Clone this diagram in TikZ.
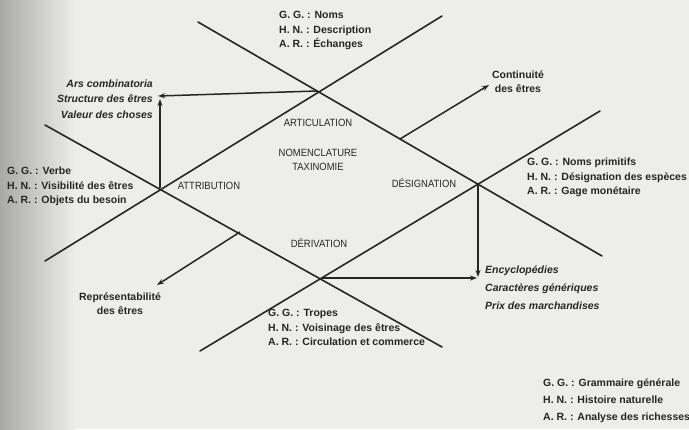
\documentclass[tikz,border=0pt]{standalone}
\usepackage{fontspec}
\setmainfont{Liberation Sans}
\newfontfamily\capsfont{Liberation Sans}[FakeStretch=0.9]
\usetikzlibrary{arrows.meta}
\definecolor{bgpaper}{HTML}{EDEDE9}
\definecolor{bgedge}{HTML}{A9A9A6}
\definecolor{ink}{HTML}{262626}
\tikzset{
  axis/.style={draw=ink, line width=1.6pt, line cap=round},
  arr/.style={draw=ink, line width=1.5pt, -{Stealth[length=7pt,width=5pt]}},
  lab/.style={font=\capsfont\fontsize{10.5}{12}\selectfont, text=ink, inner sep=0pt},
  blk/.style={text=ink, inner sep=0pt, align=left, anchor=north west, font=\bfseries\fontsize{10.5}{14.5}\selectfont},
}
\begin{document}
\begin{tikzpicture}[x=1pt,y=-1pt]
\useasboundingbox (0,0) rectangle (689,429);
\fill[bgpaper] (0,0) rectangle (689,429);
\shade[left color=bgedge, right color=bgpaper] (0,0) rectangle (75,429);
% crossing points
\coordinate (A) at (317,91);
\coordinate (T) at (160,188);
\coordinate (D) at (322,278);
\coordinate (S) at (478,184);
% line ends
\coordinate (L1s) at (198,22);
\coordinate (L1e) at (602,256);
\coordinate (L2s) at (45,261);
\coordinate (L2e) at (442,16);
\coordinate (L3s) at (45,125);
\coordinate (L3e) at (442,347);
\coordinate (L4s) at (200,351);
\coordinate (L4e) at (600,111);
\draw[axis] (L1s) -- (L1e);
\draw[axis] (L2s) -- (L2e);
\draw[axis] (L3s) -- (L3e);
\draw[axis] (L4s) -- (L4e);
% arrow anchors
\coordinate (structtip) at (158,96);
\coordinate (uptip) at (160,99);
\coordinate (contfrom) at (400,139);
\coordinate (conttip) at (489,85);
\coordinate (repfrom) at (240,232);
\coordinate (reptip) at (157,285);
\coordinate (downtip) at (478,277);
\coordinate (righttip) at (477,278);
\draw[arr] (A) -- (structtip);
\draw[arr] (T) -- (uptip);
\draw[arr] (contfrom) -- (conttip);
\draw[arr] (repfrom) -- (reptip);
\draw[arr] (S) -- (downtip);
\draw[arr] (D) -- (righttip);
% central labels
\node[lab] (art) at (318,123) {ARTICULATION};
\node[lab] (nom) at (318,153) {NOMENCLATURE};
\node[lab] (tax) at (318,167) {TAXINOMIE};
\node[lab] (att) at (209,186) {ATTRIBUTION};
\node[lab] (des) at (424,183) {DÉSIGNATION};
\node[lab] (der) at (319,243) {DÉRIVATION};
% blocks
\node[blk] (top) at (279,11) {G. G. : Noms\\H. N. : Description\\A. R. : Échanges};
\node[blk] (left) at (7,167) {G. G. : Verbe\\H. N. : Visibilité des êtres\\A. R. : Objets du besoin};
\node[blk] (right) at (527,158) {G. G. : Noms primitifs\\H. N. : Désignation des espèces\\A. R. : Gage monétaire};
\node[blk] (bottom) at (268,309) {G. G. : Tropes\\H. N. : Voisinage des êtres\\A. R. : Circulation et commerce};
\node[blk, font=\bfseries\fontsize{10.5}{17}\selectfont] (legend) at (543,379) {G. G. : Grammaire générale\\H. N. : Histoire naturelle\\A. R. : Analyse des richesses};
\node[text=ink, inner sep=0pt, align=right, anchor=east, font=\bfseries\itshape\fontsize{10.5}{15.5}\selectfont] (ars) at (153,99) {Ars combinatoria\\Structure des êtres\\Valeur des choses};
\node[text=ink, inner sep=0pt, align=left, anchor=north west, font=\bfseries\itshape\fontsize{10.5}{18}\selectfont] (ency) at (485,266) {Encyclopédies\\Caractères génériques\\Prix des marchandises};
\node[text=ink, inner sep=0pt, align=center, font=\bfseries\fontsize{10.5}{14}\selectfont] (cont) at (518,82) {Continuité\\des êtres};
\node[text=ink, inner sep=0pt, align=center, font=\bfseries\fontsize{10.5}{14}\selectfont] (rep) at (120,304) {Représentabilité\\des êtres};
\end{tikzpicture}
\end{document}
